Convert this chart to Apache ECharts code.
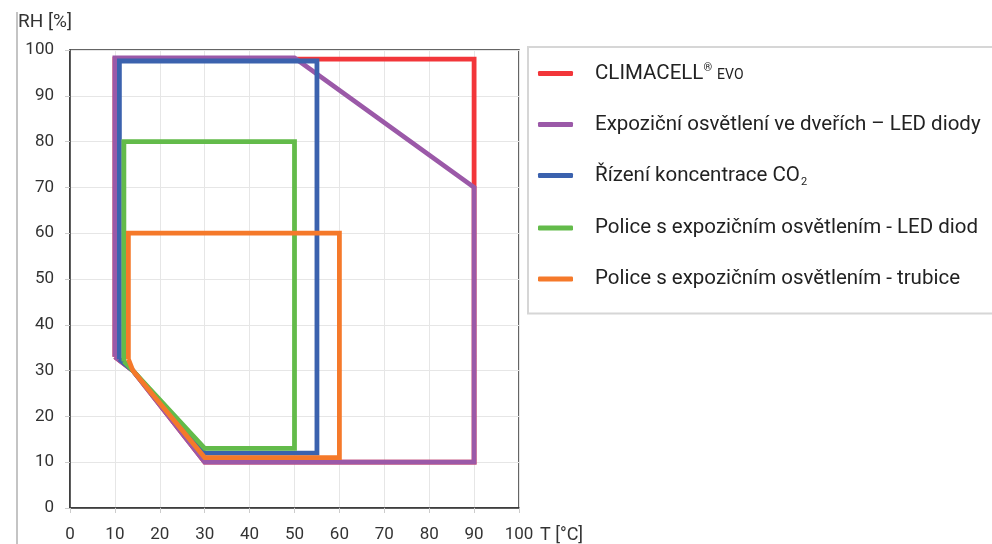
<!DOCTYPE html>
<html>
<head>
<meta charset="utf-8">
<script src="https://cdn.jsdelivr.net/npm/echarts@6/dist/echarts.min.js"></script>
<style>html,body{margin:0;padding:0;background:#fff;}#c{width:992px;height:544px;}</style>
</head>
<body>
<div id="c"></div>
<script>
const seriesNames = [
  'CLIMACELL® EVO',
  'Expoziční osvětlení ve dveřích – LED diody',
  'Řízení koncentrace CO2',
  'Police s expozičním osvětlením - LED diod',
  'Police s expozičním osvětlením - trubice'
];
const climacell = [[10,33],[10,98],[90,98],[90,10],[30,10],[14,30],[10,33]];
const ledDoor   = [[10,33],[10,98.3],[50,98.3],[90,70],[90,10],[30,10],[14,30],[10,33]];
const co2       = [[11,32.5],[11,97.6],[55,97.6],[55,12],[30,12],[14,30],[11,32.5]];
const shelfLed  = [[12,32],[12,80],[50,80],[50,13],[30,13],[14,30],[12,32]];
const shelfTube = [[13,32.5],[13,60],[60,60],[60,11],[30,11],[14,30],[13,32.5]];
const xTicks = [0,10,20,30,40,50,60,70,80,90,100];
const yTicks = [0,10,20,30,40,50,60,70,80,90,100];
const colors = ['#f2363a','#9b59a8','#3b62ae','#63bb4a','#f5792a'];
const allData = [climacell, ledDoor, co2, shelfLed, shelfTube];

const chart = echarts.init(document.getElementById('c'));
chart.setOption({
  animation: false,
  color: colors,
  grid: {left: 70, right: 473, top: 50, bottom: 36, show: true, borderColor: '#333', borderWidth: 1.5},
  graphic: [{type: 'line', shape: {x1: 17, y1: 12, x2: 17, y2: 544}, style: {stroke: '#b0b0b0', lineWidth: 1.5}}],
  xAxis: {
    type: 'value', min: xTicks[0], max: xTicks[xTicks.length-1], interval: 10,
    name: 'T [°C]', nameLocation: 'end', nameGap: 21,
    nameTextStyle: {fontFamily: 'Roboto', fontSize: 18, color: '#333', verticalAlign: 'top', padding: [18,0,0,0]},
    axisLine: {lineStyle: {color: '#333', width: 1.5}},
    axisTick: {show: true, length: 5, lineStyle: {color: '#ccc'}},
    axisLabel: {fontFamily: 'Roboto', fontSize: 17, color: '#333', margin: 18},
    splitLine: {lineStyle: {color: '#e6e6e6'}}
  },
  yAxis: {
    type: 'value', min: yTicks[0], max: yTicks[yTicks.length-1], interval: 10,
    name: 'RH [%]', nameLocation: 'end', nameGap: 18,
    nameTextStyle: {fontFamily: 'Roboto', fontSize: 19, color: '#333', align: 'right', padding: [0,-2,0,0]},
    axisLine: {show: true, lineStyle: {color: '#333', width: 1.5}},
    axisTick: {show: true, length: 5, lineStyle: {color: '#ccc'}},
    axisLabel: {fontFamily: 'Roboto', fontSize: 17, color: '#333', margin: 16},
    splitLine: {lineStyle: {color: '#e6e6e6'}}
  },
  legend: {
    orient: 'vertical', left: 528, top: 47,
    padding: [16, 40, 24, 10],
    borderColor: '#d6d6d6', borderWidth: 2,
    icon: 'roundRect', itemWidth: 35, itemHeight: 5, itemGap: 30,
    data: seriesNames,
    formatter: function (name) {
      if (name.indexOf('CLIMACELL') === 0) return '{t|CLIMACELL}{sup|®} {sm|EVO}';
      if (name.indexOf('CO2') >= 0) return '{t|Řízení koncentrace CO}{sub|2}';
      return '{t|' + name + '}';
    },
    textStyle: {
      fontFamily: 'Roboto', fontSize: 20.5, color: '#222', padding: [0,0,0,17],
      rich: {
        t: {fontFamily: 'Roboto', fontSize: 20.5, color: '#222', lineHeight: 24},
        sup: {fontFamily: 'Roboto', fontSize: 11, color: '#222', padding: [0,0,10,0]},
        sm: {fontFamily: 'Roboto', fontSize: 14, color: '#222', padding: [3,0,0,0]},
        sub: {fontFamily: 'Roboto', fontSize: 11, color: '#222', padding: [13,0,0,1]}
      }
    }
  },
  series: allData.map(function (d, i) {
    return {
      name: seriesNames[i], type: 'line', data: d, symbol: 'none', showSymbol: false,
      lineStyle: {width: 4.8, color: colors[i], join: 'miter'},
      z: 2 + i
    };
  })
});
</script>
</body>
</html>
